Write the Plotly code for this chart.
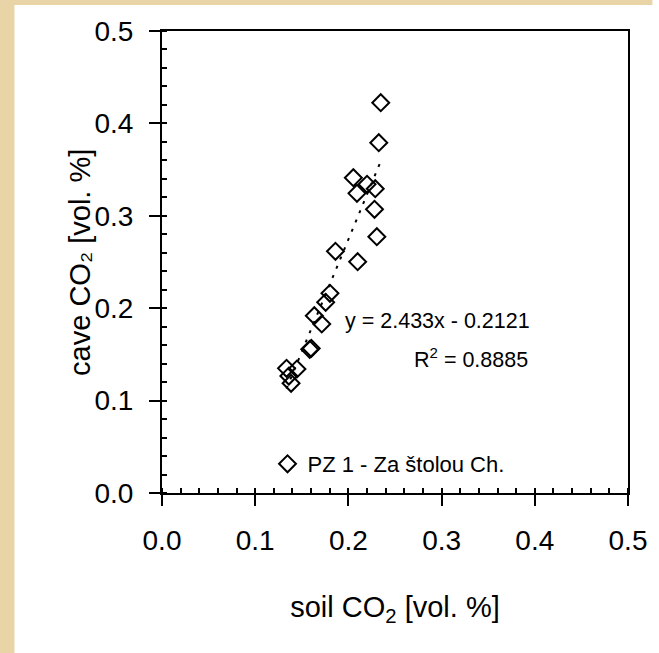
import plotly.graph_objects as go

# data
soil_co2 = [0.2347, 0.2326, 0.2053, 0.2200, 0.2092, 0.2288, 0.2280, 0.2305,
            0.1861, 0.2099, 0.1802, 0.1756, 0.1634, 0.1714, 0.1585, 0.1602,
            0.1336, 0.1448, 0.1361, 0.1385]
cave_co2 = [0.4224, 0.3791, 0.3412, 0.3341, 0.3243, 0.3293, 0.3070, 0.2774,
            0.2616, 0.2503, 0.2161, 0.2064, 0.1919, 0.1829, 0.1555, 0.1565,
            0.1349, 0.1342, 0.1266, 0.1187]
slope = 2.433
intercept = -0.2121
r2 = 0.8885
series_name = "PZ 1 - Za štolou Ch."
x_title = "soil CO<sub>2</sub> [vol. %]"
y_title = "cave CO₂ [vol. %]"
tick_vals = [0.0, 0.1, 0.2, 0.3, 0.4, 0.5]
tick_text = ["0.0", "0.1", "0.2", "0.3", "0.4", "0.5"]

FONT = "Liberation Sans, Arial, sans-serif"
TAN = "#E9D4A8"
W, H = 659, 653
ML, MR, MT, MB = 162, 20, 31, 160
PW, PH = W - ML - MR, H - MT - MB

def px_x(p):
    return (p - ML) / PW

def px_y(p):
    return (H - MB - p) / PH

xmin, xmax = min(soil_co2), max(soil_co2)
trend_x = [xmin, xmax]
trend_y = [slope * v + intercept for v in trend_x]

fig = go.Figure()
fig.add_trace(go.Scatter(
    x=trend_x, y=trend_y, mode="lines",
    line=dict(color="black", width=2, dash="3px,7px"),
    showlegend=False, hoverinfo="skip"))
fig.add_trace(go.Scatter(
    x=soil_co2, y=cave_co2, mode="markers", name=series_name,
    marker=dict(symbol="diamond-open", size=13, color="black",
                line=dict(color="black", width=2))))

axis_common = dict(
    range=[0, 0.5], tickvals=tick_vals, ticktext=tick_text,
    showgrid=False, zeroline=False,
    showline=True, linecolor="black", linewidth=2, mirror=True,
    ticks="outside", ticklen=11, tickwidth=2, tickcolor="black",
    minor=dict(ticks="inside", ticklen=5, tickwidth=2, tickcolor="black",
               dtick=0.02, tick0=0, showgrid=False),
    tickfont=dict(family=FONT, size=28, color="black"),
)

fig.update_xaxes(**axis_common,
                 title=dict(text=x_title,
                            font=dict(family=FONT, size=29, color="black"),
                            standoff=42),
                 ticklabelstandoff=10)
fig.update_yaxes(**axis_common, ticklabelstandoff=10)

fig.add_annotation(x=px_x(78), y=px_y(262), xref="paper", yref="paper",
                   text=y_title, textangle=-90, showarrow=False,
                   xanchor="center", yanchor="middle",
                   font=dict(family=FONT, size=29, color="black"))

fig.add_annotation(x=px_x(541), y=px_y(321), xref="paper", yref="paper",
                   text=f"y = {slope}x - {abs(intercept)}", showarrow=False,
                   xanchor="right", yanchor="middle",
                   font=dict(family=FONT, size=21.5, color="black"))
fig.add_annotation(x=px_x(539), y=px_y(358), xref="paper", yref="paper",
                   text=f"R<sup>2</sup> = {r2}", showarrow=False,
                   xanchor="right", yanchor="middle",
                   font=dict(family=FONT, size=21.5, color="black"))

# tan frame strips (left and top) of the page background
fig.add_shape(type="rect", xref="paper", yref="paper",
              x0=px_x(-5), x1=px_x(11), y0=px_y(H + 5), y1=px_y(-5),
              fillcolor=TAN, line=dict(width=0), layer="below")
fig.add_shape(type="rect", xref="paper", yref="paper",
              x0=px_x(-5), x1=px_x(W + 5), y0=px_y(5), y1=px_y(-5),
              fillcolor=TAN, line=dict(width=0), layer="below")

fig.update_layout(
    width=W, height=H,
    margin=dict(l=ML, r=MR, t=MT, b=MB, pad=0),
    paper_bgcolor="white", plot_bgcolor="white",
    font=dict(family=FONT, color="black"),
    showlegend=True,
    legend=dict(x=px_x(270), y=px_y(464), xanchor="left", yanchor="middle",
                bgcolor="rgba(0,0,0,0)", borderwidth=0,
                font=dict(family=FONT, size=22, color="black"),
                itemwidth=30),
)

fig.write_html("out.html")
